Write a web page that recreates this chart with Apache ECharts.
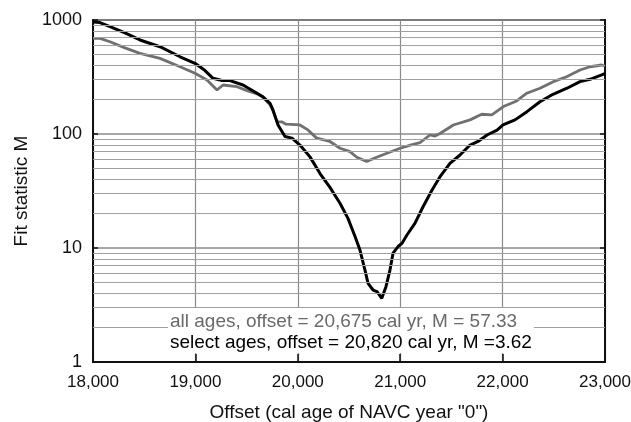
<!DOCTYPE html>
<html>
<head>
<meta charset="utf-8">
<script src="https://cdn.jsdelivr.net/npm/echarts@6/dist/echarts.min.js"></script>
<style>
  html, body { margin: 0; padding: 0; background: #fff; }
  #chart { width: 631px; height: 422px; }
</style>
</head>
<body>
<div id="chart"></div>
<script>
// Fit statistic M versus assumed calendar offset of NAVC year "0"
const selectYears = [18000, 18068, 18166, 18312, 18459, 18654, 18850, 18996, 19094, 19172, 19260, 19338, 19465,
  19602, 19660, 19729, 19758, 19807, 19875, 19943, 20021, 20119, 20217, 20314, 20412, 20490, 20559, 20607, 20656,
  20686, 20735, 20774, 20820, 20861, 20900, 20930, 20979, 21018, 21066, 21145, 21223, 21311, 21389, 21486, 21584,
  21682, 21760, 21848, 21946, 22004, 22121, 22238, 22365, 22492, 22629, 22756, 22854, 22981, 23000];
const selectM = [960, 950, 873, 770, 668, 583, 476, 417, 360, 308, 295, 294, 269,
  228, 212, 186, 162, 120, 95, 92, 80, 63, 45, 34, 24.7, 18.2, 12.6, 9.6, 6.4,
  4.9, 4.28, 4.14, 3.62, 4.58, 6.4, 9.0, 10.3, 11.0, 13.0, 16.5, 23.0, 32.3, 42.2, 55.3, 65.4,
  80, 86, 98, 108, 120, 133, 157, 192, 223, 252, 288, 302, 334, 338];

const allYears = [18000, 18068, 18166, 18312, 18459, 18654, 18850, 18996, 19113, 19211, 19270, 19406, 19504,
  19602, 19660, 19729, 19758, 19797, 19843, 19885, 20021, 20102, 20184, 20314, 20412, 20510, 20576, 20673,
  20770, 20870, 21000, 21100, 21193, 21291, 21340, 21389, 21519, 21682, 21796, 21894, 22008, 22138, 22236,
  22365, 22495, 22625, 22756, 22854, 22968, 23000];
const allM = [691, 690, 645, 570, 510, 461, 389, 341, 298, 243, 269, 260, 240,
  225, 210, 180, 160, 128, 128, 122, 120, 108, 92, 86, 75, 70, 62.5, 57.33,
  62.5, 67.7, 75, 80, 84, 98, 96, 101, 120, 133, 149, 147, 174, 195, 228,
  252, 288, 318, 364, 389, 403, 395];

// intermediate log-scale grid levels (2..9 in each decade)
const minorLevels = [2, 3, 4, 5, 6, 7, 8, 9, 20, 30, 40, 50, 60, 70, 80, 90, 200, 300, 400, 500, 600, 700, 800, 900];

const allLabel = 'all ages, offset = 20,675 cal yr, M = 57.33';
const selectLabel = 'select ages, offset = 20,820 cal yr, M =3.62';

const FONT = 'Liberation Sans, Arial, sans-serif';

function pairs(xs, ys) { return xs.map((x, i) => [x, ys[i]]); }

const chart = echarts.init(document.getElementById('chart'), null, { renderer: 'canvas' });

chart.setOption({
  animation: false,
  backgroundColor: '#fff',
  grid: { left: 93, right: 26, top: 20, bottom: 60, outerBoundsMode: 'none', containLabel: false,
    show: true, borderColor: '#555', borderWidth: 2, backgroundColor: 'transparent' },
  xAxis: {
    type: 'value', min: 18000, max: 23000, interval: 1000,
    name: 'Offset (cal age of NAVC year "0")', nameLocation: 'middle', nameGap: 41,
    nameTextStyle: { fontFamily: FONT, fontSize: 19, color: '#111' },
    axisLine: { show: true, lineStyle: { color: '#111', width: 2 } },
    axisTick: { show: true, inside: true, length: 8, lineStyle: { color: '#111', width: 1.5 } },
    axisLabel: { fontFamily: FONT, fontSize: 17, color: '#111', margin: 12,
      formatter: v => v.toLocaleString('en-US') },
    splitLine: { show: true, lineStyle: { color: '#8a8a8a', width: 1.2 } }
  },
  yAxis: [{
    type: 'log', logBase: 10, min: 1, max: 1000,
    name: 'Fit statistic M', nameLocation: 'middle', nameGap: 61,
    nameTextStyle: { fontFamily: FONT, fontSize: 19, color: '#111' },
    axisLine: { show: true, lineStyle: { color: '#111', width: 2 } },
    axisTick: { show: true, inside: true, length: 5, lineStyle: { color: '#111', width: 1.5 } },
    axisLabel: { fontFamily: FONT, fontSize: 18, color: '#111', margin: 11, formatter: v => String(v) },
    splitLine: { show: true, lineStyle: { color: '#8a8a8a', width: 1.5 } }
  }, {
    type: 'log', logBase: 10, min: 1, max: 1000, position: 'right',
    axisLine: { show: true, lineStyle: { color: '#111', width: 2 } },
    axisTick: { show: true, inside: true, length: 5, lineStyle: { color: '#111', width: 1.5 } },
    axisLabel: { show: false },
    splitLine: { show: false }
  }],
  series: [
    {
      type: 'line', data: [], z: 1, silent: true,
      markLine: {
        silent: true, symbol: 'none', animation: false,
        label: { show: false },
        lineStyle: { color: '#a0a0a0', width: 1.2, type: 'solid' },
        data: minorLevels.map(v => ({ yAxis: v }))
      }
    },
    {
      name: 'all ages', type: 'line', data: pairs(allYears, allM), z: 3,
      showSymbol: false, symbol: 'none', smooth: false,
      lineStyle: { color: '#707070', width: 2.8 }
    },
    {
      name: 'select ages', type: 'line', data: pairs(selectYears, selectM), z: 4,
      showSymbol: false, symbol: 'none', smooth: false,
      lineStyle: { color: '#000', width: 3 }
    }
  ],
  graphic: [{
    type: 'text', left: 168, top: 308, z: 100,
    style: {
      text: '{a|' + allLabel + '}\n{b|' + selectLabel + '}',
      backgroundColor: '#fff',
      padding: [3, 2, 0, 2],
      rich: {
        a: { fill: '#6a6a6a', fontFamily: FONT, fontSize: 19, lineHeight: 21 },
        b: { fill: '#000', fontFamily: FONT, fontSize: 19, lineHeight: 21 }
      }
    }
  }]
});
</script>
</body>
</html>
